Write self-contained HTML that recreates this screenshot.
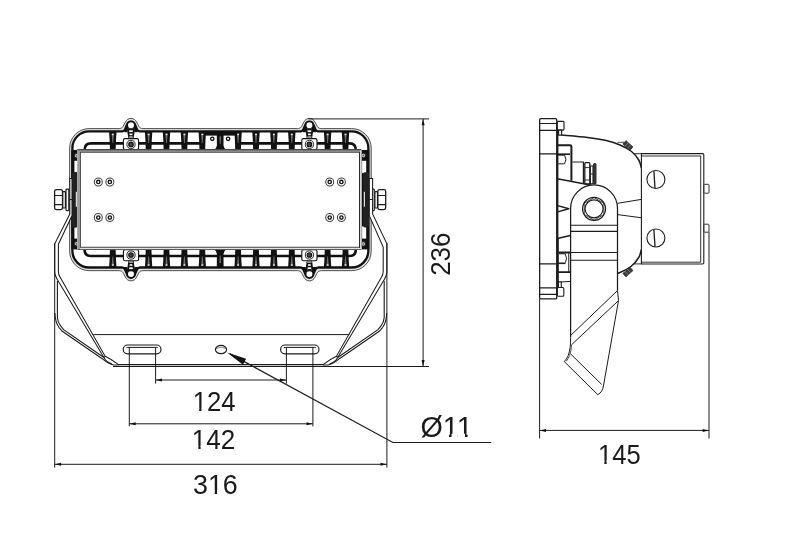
<!DOCTYPE html>
<html><head><meta charset="utf-8"><title>Dimensions</title>
<style>
html,body{margin:0;padding:0;background:#fff;}
body{width:800px;height:537px;overflow:hidden;font-family:"Liberation Sans",sans-serif;}
svg{display:block;will-change:transform;}
</style></head><body>
<svg width="800" height="537" viewBox="0 0 800 537">
<rect width="800" height="537" fill="#fff"/>
<g id="front">
<path d="M 89.15 128.60 L 119.20 128.60 C 119.57 128.52 120.77 128.43 121.40 128.10 C 122.03 127.77 122.33 127.60 123.00 126.60 C 123.67 125.60 124.65 123.28 125.40 122.10 C 126.15 120.92 126.57 120.12 127.50 119.50 C 128.43 118.88 129.83 118.35 131.00 118.35 C 132.17 118.35 133.57 118.88 134.50 119.50 C 135.43 120.12 135.85 120.92 136.60 122.10 C 137.35 123.28 138.33 125.60 139.00 126.60 C 139.67 127.60 139.97 127.77 140.60 128.10 C 141.23 128.43 142.43 128.52 142.80 128.60 L 297.60 128.60 C 297.97 128.52 299.17 128.43 299.80 128.10 C 300.43 127.77 300.73 127.60 301.40 126.60 C 302.07 125.60 303.05 123.28 303.80 122.10 C 304.55 120.92 304.97 120.12 305.90 119.50 C 306.83 118.88 308.23 118.35 309.40 118.35 C 310.57 118.35 311.97 118.88 312.90 119.50 C 313.83 120.12 314.25 120.92 315.00 122.10 C 315.75 123.28 316.73 125.60 317.40 126.60 C 318.07 127.60 318.37 127.77 319.00 128.10 C 319.63 128.43 320.83 128.52 321.20 128.60 L 351.70 128.60 A 19.50 19.50 0 0 1 371.20 148.10 L 371.20 251.15 A 19.50 19.50 0 0 1 351.70 270.65 L 321.20 270.65 C 320.83 270.73 319.63 270.82 319.00 271.15 C 318.37 271.48 318.07 271.65 317.40 272.65 C 316.73 273.65 315.75 275.97 315.00 277.15 C 314.25 278.33 313.83 279.13 312.90 279.75 C 311.97 280.38 310.57 280.90 309.40 280.90 C 308.23 280.90 306.83 280.38 305.90 279.75 C 304.97 279.13 304.55 278.33 303.80 277.15 C 303.05 275.97 302.07 273.65 301.40 272.65 C 300.73 271.65 300.43 271.48 299.80 271.15 C 299.17 270.82 297.97 270.73 297.60 270.65 L 142.80 270.65 C 142.43 270.73 141.23 270.82 140.60 271.15 C 139.97 271.48 139.67 271.65 139.00 272.65 C 138.33 273.65 137.35 275.97 136.60 277.15 C 135.85 278.33 135.43 279.13 134.50 279.75 C 133.57 280.38 132.17 280.90 131.00 280.90 C 129.83 280.90 128.43 280.38 127.50 279.75 C 126.57 279.13 126.15 278.33 125.40 277.15 C 124.65 275.97 123.67 273.65 123.00 272.65 C 122.33 271.65 122.03 271.48 121.40 271.15 C 120.77 270.82 119.57 270.73 119.20 270.65 L 89.15 270.65 A 19.50 19.50 0 0 1 69.65 251.15 L 69.65 148.10 A 19.50 19.50 0 0 1 89.15 128.60 Z" fill="#e4e4e4" stroke="#3a3a3a" stroke-width="0.9"/>
<path d="M 89.15 131.35 L 122.12 131.35 C 122.40 131.27 123.30 131.20 123.78 130.89 C 124.25 130.58 124.48 130.43 124.98 129.50 C 125.48 128.58 126.22 126.44 126.79 125.35 C 127.35 124.26 127.66 123.53 128.37 122.95 C 129.07 122.37 130.12 121.89 131.00 121.89 C 131.88 121.89 132.93 122.37 133.63 122.95 C 134.34 123.53 134.65 124.26 135.21 125.35 C 135.78 126.44 136.52 128.58 137.02 129.50 C 137.52 130.43 137.75 130.58 138.22 130.89 C 138.70 131.20 139.60 131.27 139.88 131.35 L 300.52 131.35 C 300.80 131.27 301.70 131.20 302.18 130.89 C 302.65 130.58 302.88 130.43 303.38 129.50 C 303.88 128.58 304.62 126.44 305.19 125.35 C 305.75 124.26 306.06 123.53 306.77 122.95 C 307.47 122.37 308.52 121.89 309.40 121.89 C 310.28 121.89 311.33 122.37 312.03 122.95 C 312.74 123.53 313.05 124.26 313.61 125.35 C 314.18 126.44 314.92 128.58 315.42 129.50 C 315.92 130.43 316.15 130.58 316.62 130.89 C 317.10 131.20 318.00 131.27 318.28 131.35 L 351.60 131.35 A 16.75 16.75 0 0 1 368.35 148.10 L 368.35 250.75 A 16.75 16.75 0 0 1 351.60 267.50 L 318.28 267.50 C 318.00 267.58 317.10 267.65 316.62 267.96 C 316.15 268.27 315.92 268.42 315.42 269.35 C 314.92 270.27 314.18 272.41 313.61 273.50 C 313.05 274.59 312.74 275.32 312.03 275.90 C 311.33 276.48 310.28 276.96 309.40 276.96 C 308.52 276.96 307.47 276.48 306.77 275.90 C 306.06 275.32 305.75 274.59 305.19 273.50 C 304.62 272.41 303.88 270.27 303.38 269.35 C 302.88 268.42 302.65 268.27 302.18 267.96 C 301.70 267.65 300.80 267.58 300.52 267.50 L 139.88 267.50 C 139.60 267.58 138.70 267.65 138.22 267.96 C 137.75 268.27 137.52 268.42 137.02 269.35 C 136.52 270.27 135.78 272.41 135.21 273.50 C 134.65 274.59 134.34 275.32 133.63 275.90 C 132.93 276.48 131.88 276.96 131.00 276.96 C 130.12 276.96 129.07 276.48 128.37 275.90 C 127.66 275.32 127.35 274.59 126.79 273.50 C 126.22 272.41 125.48 270.27 124.98 269.35 C 124.48 268.42 124.25 268.27 123.78 267.96 C 123.30 267.65 122.40 267.58 122.12 267.50 L 89.15 267.50 A 16.75 16.75 0 0 1 72.40 250.75 L 72.40 148.10 A 16.75 16.75 0 0 1 89.15 131.35 Z" fill="#fff" stroke="#111" stroke-width="2.3"/>
<rect x="71.3" y="150" width="6.2" height="99.4" fill="#111"/>
<rect x="74.4" y="160.80" width="2.7" height="11.3" fill="#fff"/>
<rect x="74.4" y="227.30" width="2.7" height="11.3" fill="#fff"/>
<rect x="75.9" y="191.8" width="1.0" height="15" fill="#e8e8e8"/>
<circle cx="76.6" cy="155.70" r="2.3" fill="#bbb" stroke="#222" stroke-width="1"/>
<circle cx="76.6" cy="155.70" r="0.8" fill="#555"/>
<circle cx="76.6" cy="243.70" r="2.3" fill="#bbb" stroke="#222" stroke-width="1"/>
<circle cx="76.6" cy="243.70" r="0.8" fill="#555"/>
<rect x="361.3" y="150" width="8" height="99.4" fill="#111"/>
<rect x="362.1" y="160.80" width="4.1" height="12.3" fill="#fff"/>
<rect x="362.1" y="226.30" width="4.1" height="12.3" fill="#fff"/>
<rect x="363.6" y="191.8" width="1.0" height="15" fill="#e8e8e8"/>
<circle cx="363.4" cy="155.50" r="2.3" fill="#bbb" stroke="#222" stroke-width="1"/>
<circle cx="363.4" cy="155.50" r="0.8" fill="#555"/>
<circle cx="363.4" cy="243.90" r="2.3" fill="#bbb" stroke="#222" stroke-width="1"/>
<circle cx="363.4" cy="243.90" r="0.8" fill="#555"/>
<rect x="71.6" y="172.2" width="6" height="55.3" rx="2" fill="#222"/>
<rect x="363" y="172.2" width="6" height="55.3" rx="2" fill="#222"/>
<rect x="75.8" y="191.8" width="1.1" height="15" fill="#eee"/>
<rect x="363.8" y="191.8" width="1.1" height="15" fill="#eee"/>
<g>
<path d="M 84.6 150 Q 84.6 143.4 91 143.4 L 202.30 143.4" fill="none" stroke="#111" stroke-width="2.6"/>
<path d="M 355.8 150 Q 355.8 143.4 349.4 143.4 L 238.10 143.4" fill="none" stroke="#111" stroke-width="2.6"/>
<path d="M 109.10 132 L 116.50 132 L 116.00 140 L 115.65 149.8 L 109.95 149.8 L 109.60 140 Z" fill="#111"/>
<path d="M 111.70 133.7 L 113.90 133.7 L 113.20 143 L 112.40 143 Z" fill="#6e6e6e"/>
<rect x="111.90" y="133.7" width="1.8" height="1.4" fill="#e8e8e8"/>
<path d="M 144.90 132 L 152.30 132 L 151.80 140 L 151.45 149.8 L 145.75 149.8 L 145.40 140 Z" fill="#111"/>
<path d="M 147.50 133.7 L 149.70 133.7 L 149.00 143 L 148.20 143 Z" fill="#6e6e6e"/>
<rect x="147.70" y="133.7" width="1.8" height="1.4" fill="#e8e8e8"/>
<path d="M 162.80 132 L 170.20 132 L 169.70 140 L 169.35 149.8 L 163.65 149.8 L 163.30 140 Z" fill="#111"/>
<path d="M 165.40 133.7 L 167.60 133.7 L 166.90 143 L 166.10 143 Z" fill="#6e6e6e"/>
<rect x="165.60" y="133.7" width="1.8" height="1.4" fill="#e8e8e8"/>
<path d="M 180.70 132 L 188.10 132 L 187.60 140 L 187.25 149.8 L 181.55 149.8 L 181.20 140 Z" fill="#111"/>
<path d="M 183.30 133.7 L 185.50 133.7 L 184.80 143 L 184.00 143 Z" fill="#6e6e6e"/>
<rect x="183.50" y="133.7" width="1.8" height="1.4" fill="#e8e8e8"/>
<path d="M 198.60 132 L 206.00 132 L 205.50 140 L 205.15 149.8 L 199.45 149.8 L 199.10 140 Z" fill="#111"/>
<path d="M 201.20 133.7 L 203.40 133.7 L 202.70 143 L 201.90 143 Z" fill="#6e6e6e"/>
<rect x="201.40" y="133.7" width="1.8" height="1.4" fill="#e8e8e8"/>
<path d="M 234.40 132 L 241.80 132 L 241.30 140 L 240.95 149.8 L 235.25 149.8 L 234.90 140 Z" fill="#111"/>
<path d="M 237.00 133.7 L 239.20 133.7 L 238.50 143 L 237.70 143 Z" fill="#6e6e6e"/>
<rect x="237.20" y="133.7" width="1.8" height="1.4" fill="#e8e8e8"/>
<path d="M 252.30 132 L 259.70 132 L 259.20 140 L 258.85 149.8 L 253.15 149.8 L 252.80 140 Z" fill="#111"/>
<path d="M 254.90 133.7 L 257.10 133.7 L 256.40 143 L 255.60 143 Z" fill="#6e6e6e"/>
<rect x="255.10" y="133.7" width="1.8" height="1.4" fill="#e8e8e8"/>
<path d="M 270.20 132 L 277.60 132 L 277.10 140 L 276.75 149.8 L 271.05 149.8 L 270.70 140 Z" fill="#111"/>
<path d="M 272.80 133.7 L 275.00 133.7 L 274.30 143 L 273.50 143 Z" fill="#6e6e6e"/>
<rect x="273.00" y="133.7" width="1.8" height="1.4" fill="#e8e8e8"/>
<path d="M 288.10 132 L 295.50 132 L 295.00 140 L 294.65 149.8 L 288.95 149.8 L 288.60 140 Z" fill="#111"/>
<path d="M 290.70 133.7 L 292.90 133.7 L 292.20 143 L 291.40 143 Z" fill="#6e6e6e"/>
<rect x="290.90" y="133.7" width="1.8" height="1.4" fill="#e8e8e8"/>
<path d="M 323.90 132 L 331.30 132 L 330.80 140 L 330.45 149.8 L 324.75 149.8 L 324.40 140 Z" fill="#111"/>
<path d="M 326.50 133.7 L 328.70 133.7 L 328.00 143 L 327.20 143 Z" fill="#6e6e6e"/>
<rect x="326.70" y="133.7" width="1.8" height="1.4" fill="#e8e8e8"/>
<path d="M 341.80 132 L 349.20 132 L 348.70 140 L 348.35 149.8 L 342.65 149.8 L 342.30 140 Z" fill="#111"/>
<path d="M 344.40 133.7 L 346.60 133.7 L 345.90 143 L 345.10 143 Z" fill="#6e6e6e"/>
<rect x="344.60" y="133.7" width="1.8" height="1.4" fill="#e8e8e8"/>
<path d="M 216.80 132 L 223.60 132 L 223.50 145.4 Q 224.10 148.4 226.00 149.8 L 214.40 149.8 Q 216.30 148.4 216.90 145.4 Z" fill="#111"/>
<path d="M 219.30 136.5 L 221.10 136.5 L 220.60 144 L 219.80 144 Z" fill="#6e6e6e"/>
<rect x="204.80" y="131" width="30.80" height="4.6" fill="#111"/>
<circle cx="212.30" cy="138.8" r="1.7" fill="#fff" stroke="#111" stroke-width="1.3"/>
<circle cx="228.10" cy="138.8" r="1.7" fill="#fff" stroke="#111" stroke-width="1.3"/>
<circle cx="131.00" cy="125.3" r="3.95" fill="#fff" stroke="#111" stroke-width="1.9"/>
<path d="M 124.40 132.3 L 124.80 129 L 126.60 126 L 127.80 128.2 L 127.40 132.3 Z" fill="#111"/>
<path d="M 137.60 132.3 L 137.20 129 L 135.40 126 L 134.20 128.2 L 134.60 132.3 Z" fill="#111"/>
<path d="M 126.90 128.2 L 135.10 128.2 L 133.60 139 L 128.40 139 Z" fill="#111"/>
<path d="M 128.90 128.6 L 133.10 128.6 L 131.90 139 L 130.10 139 Z" fill="#fff"/>
<rect x="128.80" y="128.4" width="4.4" height="1.9" fill="#111"/>
<rect x="128.80" y="132.1" width="4.4" height="1.5" fill="#111"/>
<rect x="128.80" y="135.2" width="4.4" height="1.3" fill="#111"/>
<rect x="128.80" y="136.5" width="4.4" height="2.5" fill="#999"/>
<rect x="123.40" y="138.6" width="15.2" height="11" rx="1.6" fill="#fff" stroke="#111" stroke-width="1.1"/>
<circle cx="131.00" cy="144.4" r="4.1" fill="#fff" stroke="#111" stroke-width="0.9"/>
<circle cx="131.00" cy="144.4" r="2.3" fill="#444" stroke="#111" stroke-width="1.1"/>
<circle cx="309.40" cy="125.3" r="3.95" fill="#fff" stroke="#111" stroke-width="1.9"/>
<path d="M 302.80 132.3 L 303.20 129 L 305.00 126 L 306.20 128.2 L 305.80 132.3 Z" fill="#111"/>
<path d="M 316.00 132.3 L 315.60 129 L 313.80 126 L 312.60 128.2 L 313.00 132.3 Z" fill="#111"/>
<path d="M 305.30 128.2 L 313.50 128.2 L 312.00 139 L 306.80 139 Z" fill="#111"/>
<path d="M 307.30 128.6 L 311.50 128.6 L 310.30 139 L 308.50 139 Z" fill="#fff"/>
<rect x="307.20" y="128.4" width="4.4" height="1.9" fill="#111"/>
<rect x="307.20" y="132.1" width="4.4" height="1.5" fill="#111"/>
<rect x="307.20" y="135.2" width="4.4" height="1.3" fill="#111"/>
<rect x="307.20" y="136.5" width="4.4" height="2.5" fill="#999"/>
<rect x="301.80" y="138.6" width="15.2" height="11" rx="1.6" fill="#fff" stroke="#111" stroke-width="1.1"/>
<circle cx="309.40" cy="144.4" r="4.1" fill="#fff" stroke="#111" stroke-width="0.9"/>
<circle cx="309.40" cy="144.4" r="2.3" fill="#444" stroke="#111" stroke-width="1.1"/>
</g>
<g transform="translate(0 399.40) scale(1 -1)">
<path d="M 84.6 150 Q 84.6 143.4 91 143.4 L 349.4 143.4 Q 355.8 143.4 355.8 150" fill="none" stroke="#111" stroke-width="2.6"/>
<path d="M 109.10 132 L 116.50 132 L 116.00 140 L 115.65 149.8 L 109.95 149.8 L 109.60 140 Z" fill="#111"/>
<path d="M 111.70 133.7 L 113.90 133.7 L 113.20 143 L 112.40 143 Z" fill="#6e6e6e"/>
<rect x="111.90" y="133.7" width="1.8" height="1.4" fill="#e8e8e8"/>
<path d="M 144.90 132 L 152.30 132 L 151.80 140 L 151.45 149.8 L 145.75 149.8 L 145.40 140 Z" fill="#111"/>
<path d="M 147.50 133.7 L 149.70 133.7 L 149.00 143 L 148.20 143 Z" fill="#6e6e6e"/>
<rect x="147.70" y="133.7" width="1.8" height="1.4" fill="#e8e8e8"/>
<path d="M 162.80 132 L 170.20 132 L 169.70 140 L 169.35 149.8 L 163.65 149.8 L 163.30 140 Z" fill="#111"/>
<path d="M 165.40 133.7 L 167.60 133.7 L 166.90 143 L 166.10 143 Z" fill="#6e6e6e"/>
<rect x="165.60" y="133.7" width="1.8" height="1.4" fill="#e8e8e8"/>
<path d="M 180.70 132 L 188.10 132 L 187.60 140 L 187.25 149.8 L 181.55 149.8 L 181.20 140 Z" fill="#111"/>
<path d="M 183.30 133.7 L 185.50 133.7 L 184.80 143 L 184.00 143 Z" fill="#6e6e6e"/>
<rect x="183.50" y="133.7" width="1.8" height="1.4" fill="#e8e8e8"/>
<path d="M 198.60 132 L 206.00 132 L 205.50 140 L 205.15 149.8 L 199.45 149.8 L 199.10 140 Z" fill="#111"/>
<path d="M 201.20 133.7 L 203.40 133.7 L 202.70 143 L 201.90 143 Z" fill="#6e6e6e"/>
<rect x="201.40" y="133.7" width="1.8" height="1.4" fill="#e8e8e8"/>
<path d="M 234.40 132 L 241.80 132 L 241.30 140 L 240.95 149.8 L 235.25 149.8 L 234.90 140 Z" fill="#111"/>
<path d="M 237.00 133.7 L 239.20 133.7 L 238.50 143 L 237.70 143 Z" fill="#6e6e6e"/>
<rect x="237.20" y="133.7" width="1.8" height="1.4" fill="#e8e8e8"/>
<path d="M 252.30 132 L 259.70 132 L 259.20 140 L 258.85 149.8 L 253.15 149.8 L 252.80 140 Z" fill="#111"/>
<path d="M 254.90 133.7 L 257.10 133.7 L 256.40 143 L 255.60 143 Z" fill="#6e6e6e"/>
<rect x="255.10" y="133.7" width="1.8" height="1.4" fill="#e8e8e8"/>
<path d="M 270.20 132 L 277.60 132 L 277.10 140 L 276.75 149.8 L 271.05 149.8 L 270.70 140 Z" fill="#111"/>
<path d="M 272.80 133.7 L 275.00 133.7 L 274.30 143 L 273.50 143 Z" fill="#6e6e6e"/>
<rect x="273.00" y="133.7" width="1.8" height="1.4" fill="#e8e8e8"/>
<path d="M 288.10 132 L 295.50 132 L 295.00 140 L 294.65 149.8 L 288.95 149.8 L 288.60 140 Z" fill="#111"/>
<path d="M 290.70 133.7 L 292.90 133.7 L 292.20 143 L 291.40 143 Z" fill="#6e6e6e"/>
<rect x="290.90" y="133.7" width="1.8" height="1.4" fill="#e8e8e8"/>
<path d="M 323.90 132 L 331.30 132 L 330.80 140 L 330.45 149.8 L 324.75 149.8 L 324.40 140 Z" fill="#111"/>
<path d="M 326.50 133.7 L 328.70 133.7 L 328.00 143 L 327.20 143 Z" fill="#6e6e6e"/>
<rect x="326.70" y="133.7" width="1.8" height="1.4" fill="#e8e8e8"/>
<path d="M 341.80 132 L 349.20 132 L 348.70 140 L 348.35 149.8 L 342.65 149.8 L 342.30 140 Z" fill="#111"/>
<path d="M 344.40 133.7 L 346.60 133.7 L 345.90 143 L 345.10 143 Z" fill="#6e6e6e"/>
<rect x="344.60" y="133.7" width="1.8" height="1.4" fill="#e8e8e8"/>
<path d="M 216.80 132 L 223.60 132 L 223.50 145.4 Q 224.10 148.4 226.00 149.8 L 214.40 149.8 Q 216.30 148.4 216.90 145.4 Z" fill="#111"/>
<path d="M 219.30 136.5 L 221.10 136.5 L 220.60 144 L 219.80 144 Z" fill="#6e6e6e"/>
<circle cx="131.00" cy="125.3" r="3.95" fill="#fff" stroke="#111" stroke-width="1.9"/>
<path d="M 124.40 132.3 L 124.80 129 L 126.60 126 L 127.80 128.2 L 127.40 132.3 Z" fill="#111"/>
<path d="M 137.60 132.3 L 137.20 129 L 135.40 126 L 134.20 128.2 L 134.60 132.3 Z" fill="#111"/>
<path d="M 126.90 128.2 L 135.10 128.2 L 133.60 139 L 128.40 139 Z" fill="#111"/>
<path d="M 128.90 128.6 L 133.10 128.6 L 131.90 139 L 130.10 139 Z" fill="#fff"/>
<rect x="128.80" y="128.4" width="4.4" height="1.9" fill="#111"/>
<rect x="128.80" y="132.1" width="4.4" height="1.5" fill="#111"/>
<rect x="128.80" y="135.2" width="4.4" height="1.3" fill="#111"/>
<rect x="128.80" y="136.5" width="4.4" height="2.5" fill="#999"/>
<rect x="123.40" y="138.6" width="15.2" height="11" rx="1.6" fill="#fff" stroke="#111" stroke-width="1.1"/>
<circle cx="131.00" cy="144.4" r="4.1" fill="#fff" stroke="#111" stroke-width="0.9"/>
<circle cx="131.00" cy="144.4" r="2.3" fill="#444" stroke="#111" stroke-width="1.1"/>
<circle cx="309.40" cy="125.3" r="3.95" fill="#fff" stroke="#111" stroke-width="1.9"/>
<path d="M 302.80 132.3 L 303.20 129 L 305.00 126 L 306.20 128.2 L 305.80 132.3 Z" fill="#111"/>
<path d="M 316.00 132.3 L 315.60 129 L 313.80 126 L 312.60 128.2 L 313.00 132.3 Z" fill="#111"/>
<path d="M 305.30 128.2 L 313.50 128.2 L 312.00 139 L 306.80 139 Z" fill="#111"/>
<path d="M 307.30 128.6 L 311.50 128.6 L 310.30 139 L 308.50 139 Z" fill="#fff"/>
<rect x="307.20" y="128.4" width="4.4" height="1.9" fill="#111"/>
<rect x="307.20" y="132.1" width="4.4" height="1.5" fill="#111"/>
<rect x="307.20" y="135.2" width="4.4" height="1.3" fill="#111"/>
<rect x="307.20" y="136.5" width="4.4" height="2.5" fill="#999"/>
<rect x="301.80" y="138.6" width="15.2" height="11" rx="1.6" fill="#fff" stroke="#111" stroke-width="1.1"/>
<circle cx="309.40" cy="144.4" r="4.1" fill="#fff" stroke="#111" stroke-width="0.9"/>
<circle cx="309.40" cy="144.4" r="2.3" fill="#444" stroke="#111" stroke-width="1.1"/>
</g>
<rect x="77.4" y="149.2" width="284" height="100.7" fill="#fff"/>
<rect x="77.4" y="149.2" width="284" height="3.6" fill="#8a8a8a"/>
<rect x="77.4" y="149.2" width="284" height="1.0" fill="#333"/>
<rect x="80.2" y="152.1" width="279.6" height="0.7" fill="#555"/>
<rect x="77.4" y="150.2" width="2.9" height="99" fill="#9a9a9a"/>
<rect x="80.2" y="152.1" width="0.8" height="95.5" fill="#333"/>
<rect x="80.2" y="246.8" width="280" height="1.0" fill="#222"/>
<rect x="80.2" y="247.8" width="281" height="1.3" fill="#e2e2e2"/>
<rect x="77.4" y="249.1" width="284" height="0.8" fill="#333"/>
<rect x="359" y="152.1" width="1.0" height="95.7" fill="#2a2a2a"/>
<rect x="360" y="150.2" width="1.3" height="99" fill="#d8d8d8"/>
<circle cx="98.30" cy="181.95" r="4.0" fill="#fff" stroke="#444" stroke-width="1.05"/>
<circle cx="98.30" cy="181.95" r="1.65" fill="#fff" stroke="#161616" stroke-width="1.4"/>
<circle cx="98.30" cy="217.55" r="4.0" fill="#fff" stroke="#444" stroke-width="1.05"/>
<circle cx="98.30" cy="217.55" r="1.65" fill="#fff" stroke="#161616" stroke-width="1.4"/>
<circle cx="109.85" cy="181.95" r="4.0" fill="#fff" stroke="#444" stroke-width="1.05"/>
<circle cx="109.85" cy="181.95" r="1.65" fill="#fff" stroke="#161616" stroke-width="1.4"/>
<circle cx="109.85" cy="217.55" r="4.0" fill="#fff" stroke="#444" stroke-width="1.05"/>
<circle cx="109.85" cy="217.55" r="1.65" fill="#fff" stroke="#161616" stroke-width="1.4"/>
<circle cx="329.70" cy="181.95" r="4.0" fill="#fff" stroke="#444" stroke-width="1.05"/>
<circle cx="329.70" cy="181.95" r="1.65" fill="#fff" stroke="#161616" stroke-width="1.4"/>
<circle cx="329.70" cy="217.55" r="4.0" fill="#fff" stroke="#444" stroke-width="1.05"/>
<circle cx="329.70" cy="217.55" r="1.65" fill="#fff" stroke="#161616" stroke-width="1.4"/>
<circle cx="341.40" cy="181.95" r="4.0" fill="#fff" stroke="#444" stroke-width="1.05"/>
<circle cx="341.40" cy="181.95" r="1.65" fill="#fff" stroke="#161616" stroke-width="1.4"/>
<circle cx="341.40" cy="217.55" r="4.0" fill="#fff" stroke="#444" stroke-width="1.05"/>
<circle cx="341.40" cy="217.55" r="1.65" fill="#fff" stroke="#161616" stroke-width="1.4"/>
<g fill="none" stroke="#1c1c1c" stroke-width="1.05">
<rect x="54.6" y="189.6" width="7.9" height="20" rx="1.8" fill="#fff" stroke-width="1.3"/>
<path d="M 54.8 195.4 H 62.3 M 54.8 204.6 H 62.3"/>
<rect x="62.8" y="191.6" width="2.6" height="16.4" rx="0.8" fill="#fff" stroke-width="1.2"/>
<rect x="66.0" y="189.2" width="2.8" height="21.4" rx="0.8" fill="#fff" stroke-width="1.2"/>
<path d="M 69.8 178.5 L 72.0 178.5 L 72.0 215.6 L 58.4 244.2 L 58.4 271.5 Q 58.4 274.5 60 277 L 105.2 356.3 L 103.9 357.5 L 57.3 279.5 Q 54.7 275 54.7 272 L 54.7 243.8 L 69.8 214 Z" fill="#fff"/>
<path d="M 69.8 199.5 H 72.0"/>
<path d="M 57.4 281 L 57.4 317.5 Q 57.6 322 60.6 325.9 L 63.6 329.6 L 103.9 357.5" stroke-width="1.1"/>
<path d="M 54.9 313 Q 55.3 322.6 58.9 327.3 L 62.3 331.3 L 102.2 358.7 Q 108 363.8 113.5 365 L 118.5 365"/>
<path d="M 105.2 356.3 Q 112 359.5 118.5 364.7"/>
<path d="M 103.9 357.5 Q 106 362 112 364"/>
</g>
<g transform="translate(441.60 0) scale(-1 1)" fill="none" stroke="#1c1c1c" stroke-width="1.05">
<rect x="55.9" y="189.6" width="7.9" height="20" rx="1.8" fill="#fff" stroke-width="1.3"/>
<path d="M 56.099999999999994 195.4 H 63.599999999999994 M 56.099999999999994 204.6 H 63.599999999999994"/>
<rect x="64.1" y="191.6" width="2.6" height="16.4" rx="0.8" fill="#fff" stroke-width="1.2"/>
<rect x="67.3" y="189.2" width="2.8" height="21.4" rx="0.8" fill="#fff" stroke-width="1.2"/>
<path d="M 69.0 178.5 L 72.3 178.5 L 72.3 215.6 L 58.4 247 L 58.4 271.5 Q 58.4 274.5 60 277 L 105.2 356.3 L 103.9 357.5 L 57.3 279.5 Q 54.7 275 54.7 272 L 54.7 243.8 L 69.0 214 Z" fill="#fff"/>
<path d="M 69.0 199.5 H 72.3"/>
<path d="M 57.4 281 L 57.4 317.5 Q 57.6 322 60.6 325.9 L 63.6 329.6 L 103.9 357.5" stroke-width="1.1"/>
<path d="M 54.9 313 Q 55.3 322.6 58.9 327.3 L 62.3 331.3 L 102.2 358.7 Q 108 363.8 113.5 365 L 118.5 365"/>
<path d="M 105.2 356.3 Q 112 359.5 118.5 364.7"/>
<path d="M 103.9 357.5 Q 106 362 112 364"/>
</g>
<g fill="none" stroke="#1c1c1c" stroke-width="1">
<path d="M 93.2 334.6 H 349.4"/>
<path d="M 118 364.6 H 323.6" stroke-width="1.1"/>
<path d="M 113 366.55 H 429" stroke-width="1.05"/>
<rect x="123.20" y="345" width="37.80" height="8.8" rx="4.4" fill="#fff" stroke-width="1.15"/>
<path d="M 126.40 347.6 Q 127.60 347.4 129.20 347.4 L 155.00 347.4 Q 156.60 347.4 157.80 347.6"/>
<rect x="280.60" y="345" width="38.40" height="8.8" rx="4.4" fill="#fff" stroke-width="1.15"/>
<path d="M 283.80 347.6 Q 285.00 347.4 286.60 347.4 L 313.00 347.4 Q 314.60 347.4 315.80 347.6"/>
<ellipse cx="221" cy="349.55" rx="5.6" ry="4.1" fill="#fff" stroke-width="1.2"/>
<path d="M 216 348.6 Q 221 345.6 226 348.6" stroke-width="0.7" stroke="#555"/>
</g>
</g>
<g id="dims" fill="none" stroke="#1c1c1c" stroke-width="1">
<path d="M 54.7 243 V 467.6"/>
<path d="M 386.9 243 V 467.6"/>
<path d="M 54.7 464.3 H 386.9"/>
<path d="M 129.3 347 V 426.4 M 312.9 347 V 426.4 M 129.3 423.8 H 312.9"/>
<path d="M 155.6 347 V 383.6 M 286.4 347 V 383.6 M 155.6 380 H 286.4"/>
<path d="M 308.5 118.9 H 429 M 423.1 118.9 V 366.5"/>
<path d="M 230 353.9 L 392.9 442.5 H 491.2" stroke-width="1.2"/>
<path d="M 539.6 299 V 438.4 M 709 232 V 438.4 M 539.6 430.4 H 709"/>
</g>
<path d="M 54.90 464.30 L 61.10 462.80 L 61.10 465.80 Z" fill="#111"/>
<path d="M 386.70 464.30 L 380.50 465.80 L 380.50 462.80 Z" fill="#111"/>
<path d="M 129.50 423.80 L 135.70 422.30 L 135.70 425.30 Z" fill="#111"/>
<path d="M 312.70 423.80 L 306.50 425.30 L 306.50 422.30 Z" fill="#111"/>
<path d="M 155.80 380.00 L 162.00 378.50 L 162.00 381.50 Z" fill="#111"/>
<path d="M 286.20 380.00 L 280.00 381.50 L 280.00 378.50 Z" fill="#111"/>
<path d="M 423.10 119.10 L 424.60 125.30 L 421.60 125.30 Z" fill="#111"/>
<path d="M 423.10 366.30 L 421.60 360.10 L 424.60 360.10 Z" fill="#111"/>
<path d="M 539.80 430.40 L 546.00 428.90 L 546.00 431.90 Z" fill="#111"/>
<path d="M 708.80 430.40 L 702.60 431.90 L 702.60 428.90 Z" fill="#111"/>
<path d="M 227.10 352.40 L 246.12 358.83 L 242.95 364.73 Z" fill="#111"/>
<g font-family="Liberation Sans, sans-serif" fill="#1a1a1a">
<text transform="translate(214.2 410.9) scale(0.94 1)" font-size="27.4" text-anchor="middle">124</text>
<g transform="translate(214.2 410.9) scale(0.94 1)" fill="#fff"><rect x="-22.32" y="-3.14" width="6.35" height="3.75"/><rect x="-13.55" y="-3.14" width="5.67" height="3.75"/></g>
<text transform="translate(213.5 448.8) scale(0.955 1)" font-size="27.3" text-anchor="middle">142</text>
<g transform="translate(213.5 448.8) scale(0.955 1)" fill="#fff"><rect x="-22.24" y="-3.13" width="6.33" height="3.73"/><rect x="-13.50" y="-3.13" width="5.65" height="3.73"/></g>
<text transform="translate(215.4 493.6) scale(0.985 1)" font-size="27.3" text-anchor="middle">316</text>
<g transform="translate(215.4 493.6) scale(0.985 1)" fill="#fff"><rect x="-7.06" y="-3.13" width="6.33" height="3.73"/><rect x="1.69" y="-3.13" width="5.65" height="3.73"/></g>
<text transform="translate(619.3 463.5) scale(0.935 1)" font-size="27.4" text-anchor="middle">145</text>
<g transform="translate(619.3 463.5) scale(0.935 1)" fill="#fff"><rect x="-22.32" y="-3.14" width="6.35" height="3.75"/><rect x="-13.55" y="-3.14" width="5.67" height="3.75"/></g>
<text transform="translate(446.6 437.0) scale(1.005 1)" font-size="28.6" text-anchor="middle">&#216;11</text>
<g transform="translate(446.6 437.0) scale(1.005 1)" fill="#fff"><rect x="-4.22" y="-3.28" width="6.63" height="3.91"/><rect x="4.94" y="-3.28" width="5.92" height="3.91"/></g>
<g transform="translate(446.6 437.0) scale(1.005 1)" fill="#fff"><rect x="11.68" y="-3.28" width="6.63" height="3.91"/><rect x="20.84" y="-3.28" width="5.92" height="3.91"/></g>
<text transform="translate(450.3 254.2) rotate(-90) scale(0.915 1)" font-size="28.4" text-anchor="middle">236</text>
</g>
<g id="side" fill="none" stroke="#1c1c1c" stroke-width="1.2" stroke-linejoin="round">
<path d="M 539.65 120 Q 539.65 118.7 540.9 118.7 L 555.5 118.7 Q 556.75 118.7 556.75 120 L 556.75 297.7 Q 556.75 298.9 555.5 298.9 L 540.9 298.9 Q 539.65 298.9 539.65 297.7 Z" fill="#fff" stroke-width="1.3"/>
<path d="M 539.65 123.5 H 556.75 M 539.65 130.3 H 556.75 M 539.65 153.9 H 556.75 M 539.65 263.8 H 556.75 M 539.65 287.8 H 556.75 M 539.65 294.3 H 556.75" stroke-width="1.2"/>
<path d="M 557.5 123.6 V 294.2" stroke-width="1.8"/>
<rect x="557.3" y="121.3" width="6.7" height="8.8" rx="1" fill="#fff" stroke-width="1.15"/>
<rect x="558.6" y="130.1" width="3.0" height="5.0" fill="#fff" stroke-width="1.15"/>
<rect x="558.4" y="281.9" width="2.9" height="5.6" fill="#fff" stroke-width="1.1"/>
<rect x="557.4" y="287.5" width="6.4" height="8.7" rx="1" fill="#fff" stroke-width="1.1"/>
<path d="M 561.60 135.10 C 565.92 135.50 580.06 136.58 587.50 137.50 C 594.94 138.42 600.83 139.35 606.25 140.60 C 611.67 141.85 615.83 143.22 620.00 145.00 C 624.17 146.78 628.12 148.75 631.25 151.25 C 634.38 153.75 637.06 157.21 638.75 160.00 C 640.44 162.79 640.96 166.67 641.40 168.00 " stroke-width="1.5"/>
<path d="M 606.25 276.90 C 608.54 276.17 615.83 274.27 620.00 272.50 C 624.17 270.73 628.12 268.75 631.25 266.25 C 634.38 263.75 637.06 260.29 638.75 257.50 C 640.44 254.71 640.96 250.83 641.40 249.50 " stroke-width="1.5"/>
<g transform="translate(627.9 145.5) rotate(42)"><rect x="-4.7" y="-2.3" width="9.4" height="4.6" fill="#3a3a3a" stroke="#222" stroke-width="0.7"/><path d="M -1.6 -2.3 V 2.3 M 1.6 -2.3 V 2.3" stroke="#9a9a9a" stroke-width="0.7"/></g>
<path d="M 617.5 142.4 L 624 142.2" stroke-width="0.8"/>
<g transform="translate(627.9 272.00) rotate(-42)"><rect x="-4.7" y="-2.3" width="9.4" height="4.6" fill="#3a3a3a" stroke="#222" stroke-width="0.7"/><path d="M -1.6 -2.3 V 2.3 M 1.6 -2.3 V 2.3" stroke="#9a9a9a" stroke-width="0.7"/></g>
<path d="M 641.4 153.6 H 702.6 Q 703.8 153.6 703.8 154.8 V 262.8 Q 703.8 264 702.6 264 H 641.4 Z" fill="#fff" stroke-width="1.1"/>
<path d="M 641.4 156 H 700.7 V 262.2 H 641.4" stroke-width="0.9"/>
<path d="M 633.8 153.7 H 641.4 M 633.8 263.9 H 641.4" stroke-width="0.9"/>
<circle cx="655.9" cy="179.5" r="9" fill="#fff" stroke-width="1.1"/>
<path d="M 653.9 171.1 L 655 188.1" stroke-width="1.3"/>
<circle cx="655.9" cy="238" r="9" fill="#fff" stroke-width="1.1"/>
<path d="M 653.9 229.6 L 655 246.6" stroke-width="1.3"/>
<rect x="704" y="184.3" width="5" height="8.9" rx="0.8" fill="#fff" stroke-width="0.9"/>
<rect x="704" y="224.2" width="5" height="8" rx="0.8" fill="#fff" stroke-width="0.9"/>
<path d="M 617.6 203.3 L 641.4 199.4 M 617.6 214.6 L 641.4 217.75" stroke-width="1"/>
<path d="M 557.7 145.2 H 570 Q 571.4 145.2 571.4 146.6 V 180.8" stroke-width="2"/>
<path d="M 557.7 154.2 H 570" stroke-width="1.6"/>
<path d="M 558.2 155.2 H 564.6 Q 567.2 159.5 564.6 163.8 H 558.2" stroke-width="1"/>
<path d="M 572.5 162 H 583.4 V 183.4" stroke-width="1.2"/>
<rect x="584.8" y="162.6" width="5" height="21.2" rx="0.9" fill="#fff" stroke-width="1.3"/>
<path d="M 584.8 167.6 H 589.8 M 584.8 180 H 589.8" stroke-width="0.9"/>
<rect x="590.4" y="166" width="2.6" height="17.8" fill="#fff" stroke-width="1.1"/>
<path d="M 590.4 174 H 593" stroke-width="0.9"/>
<rect x="593.7" y="163.8" width="2.2" height="20" rx="0.7" fill="#444" stroke-width="1.1"/>
<path d="M 557.3 178.8 L 591.5 185.2" stroke-width="1.5"/>
<path d="M 557.3 238.6 L 570.4 235.6" stroke-width="1.5"/>
<path d="M 557.6 205.6 L 568.8 208.75 L 557.6 211.9" stroke-width="1.5"/>
<path d="M 570.6 337.3 L 570.6 208.45 A 23.45 23.45 0 0 1 617.5 208.45 L 617.5 290.6" fill="#fff" stroke-width="1.25"/>
<path d="M 570.6 225.25 H 617.5 M 570.6 231.4 H 617.5 M 570.6 252.5 H 617.5 M 570.6 260.25 H 617.5" stroke-width="1.15"/>
<circle cx="594.05" cy="208.85" r="11.5" stroke-width="1.2"/>
<circle cx="594.05" cy="208.85" r="9.0" stroke-width="1.15"/>
<path d="M 594.05 197.55 L 603.84 203.20 L 603.84 214.50 L 594.05 220.15 L 584.26 214.50 L 584.26 203.20 Z" stroke-width="0.8"/>
<path d="M 558 238.5 V 282" stroke-width="1.4"/>
<path d="M 558 252.5 H 570.4 M 558 272.2 H 570.4" stroke-width="1.8"/>
<path d="M 558 263.3 H 565.6" stroke-width="1.6"/>
<path d="M 558.8 253.8 H 565.2 Q 567.6 258 565.6 262.5" stroke-width="1"/>
<path d="M 568.75 252.5 V 272" stroke-width="1"/>
<path d="M 561.25 282 L 570.4 281.4" stroke-width="1"/>
<path d="M 570.7 335.4 L 617.5 290.6 L 618.5 300.6 L 603.6 385 Q 602.8 392 597.8 394.7 L 564.2 361.5" stroke-width="1"/>
<path d="M 571.5 344.8 L 618.5 300.6" stroke-width="1"/>
<path d="M 570.7 354 L 601.6 384.4" stroke-width="1"/>
<path d="M 570.6 337.3 Q 570.8 349 568.2 355.5 Q 566.6 359.5 564.2 361.5" stroke-width="1"/>
<path d="M 571.5 344.8 Q 571.3 351 569.6 355.5 Q 568 359 566.2 361.4" stroke-width="0.8"/>
</g>
</svg>
</body></html>
